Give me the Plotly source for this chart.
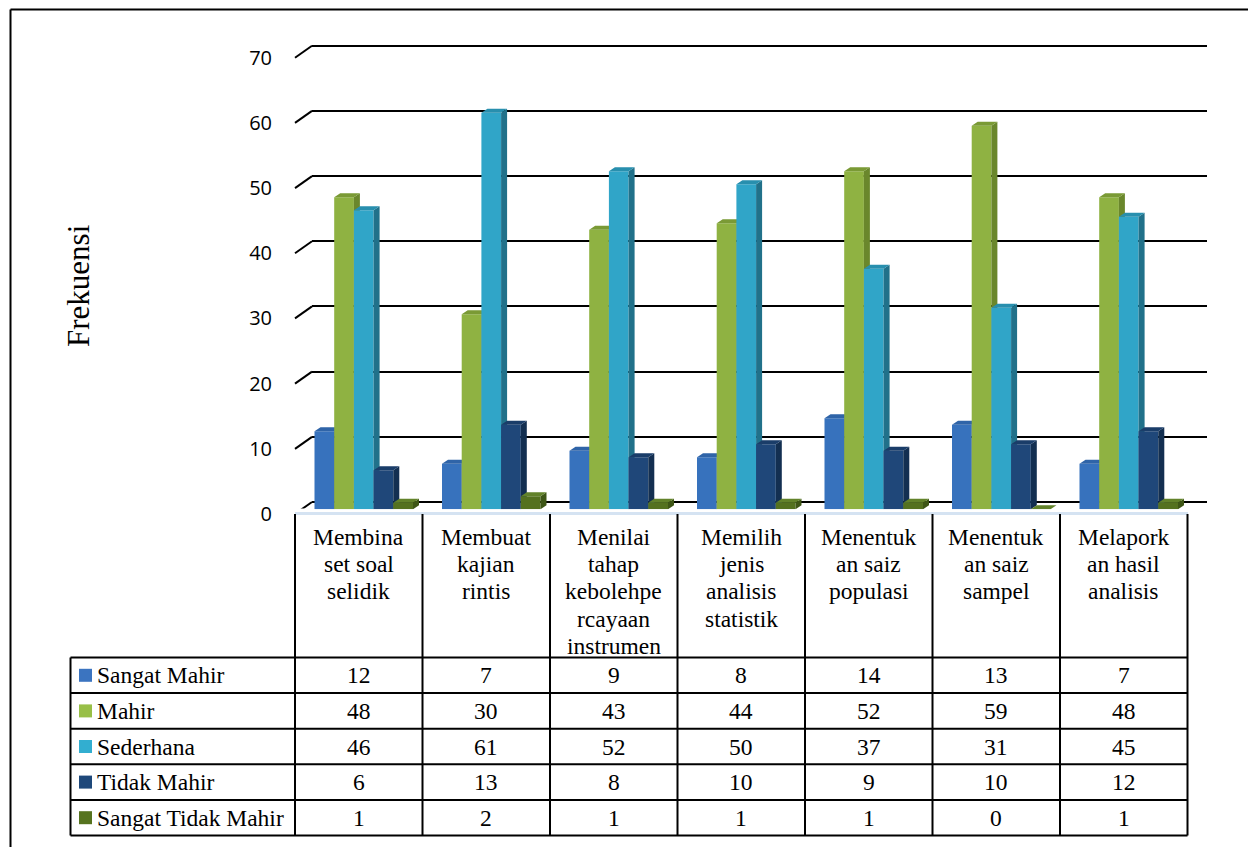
import plotly.graph_objects as go

# ---------------- data ----------------
categories = [
    "Membina<br>set soal<br>selidik",
    "Membuat<br>kajian<br>rintis",
    "Menilai<br>tahap<br>kebolehpe<br>rcayaan<br>instrumen",
    "Memilih<br>jenis<br>analisis<br>statistik",
    "Menentuk<br>an saiz<br>populasi",
    "Menentuk<br>an saiz<br>sampel",
    "Melapork<br>an hasil<br>analisis",
]
series_names = ["Sangat Mahir", "Mahir", "Sederhana", "Tidak Mahir", "Sangat Tidak Mahir"]
sangat_mahir = [12, 7, 9, 8, 14, 13, 7]
mahir = [48, 30, 43, 44, 52, 59, 48]
sederhana = [46, 61, 52, 50, 37, 31, 45]
tidak_mahir = [6, 13, 8, 10, 9, 10, 12]
sangat_tidak_mahir = [1, 2, 1, 1, 1, 0, 1]
series_values = [sangat_mahir, mahir, sederhana, tidak_mahir, sangat_tidak_mahir]
y_ticks = [0, 10, 20, 30, 40, 50, 60, 70]
y_title = "Frekuensi"

# ---------------- styles ----------------
W, H = 1248, 847
front_cols = ["#3772bd", "#8fb242", "#30a5c8", "#1f4779", "#54711f"]
top_cols = ["#2f64a8", "#7a9a35", "#288fae", "#1a3d69", "#62822a"]
side_cols = ["#28528a", "#6a872c", "#21718a", "#132f51", "#3e5616"]
swatch_cols = ["#3b74c0", "#98bf47", "#32aed0", "#1e487a", "#56731f"]
SERIF = "Liberation Serif"
TFONT = 23.5


def fx(px):
    return px / W


def fy(py):
    return 1 - py / H


# bar geometry (data units on the bar subplot)
cat_px = 127.5
bar_x0_px, bar_x1_px = 300.0, 300.0 + 7 * cat_px
w = 19.7 / cat_px
g0 = -2.5 * w
dx = 6.0 / cat_px
px_per_unit = 6.5
dy = 4.0 / px_per_unit
bar_base_px = 509.3
bar_top_px = bar_base_px - 70 * px_per_unit

# gridline subplot geometry (back wall); range padded so edge gridlines are drawn
grid_x0_px, grid_x1_px = 312.0, 1207.0
grid_base_px, grid_top_px = 502.0, 45.7
g_ppu = (grid_base_px - grid_top_px) / 70.0
g_lo, g_hi = -1.0, 71.0

fig = go.Figure()

xs = list(range(len(categories)))

for j, (name, vals) in enumerate(zip(series_names, series_values)):
    ax = j + 2
    xa, ya = f"x{ax}", f"y{ax}"
    fig.add_trace(go.Bar(
        x=xs, y=vals, name=name, width=w, offset=g0 + j * w,
        marker=dict(color=front_cols[j], line=dict(width=0)),
        xaxis=xa, yaxis=ya, showlegend=False, hoverinfo="y+name",
    ))
    sx, sy, tx, ty = [], [], [], []
    for i, v in zip(xs, vals):
        xl = i + g0 + j * w
        xr = xl + w
        sx += [xr, xr, xr + dx, xr + dx, xr, None]
        sy += [0, v, v + dy, dy, 0, None]
        tx += [xl, xr, xr + dx, xl + dx, xl, None]
        ty += [v, v, v + dy, v + dy, v, None]
    fig.add_trace(go.Scatter(
        x=sx, y=sy, mode="lines", fill="toself", fillcolor=side_cols[j],
        line=dict(width=0, color=side_cols[j]), xaxis=xa, yaxis=ya,
        showlegend=False, hoverinfo="skip",
    ))
    fig.add_trace(go.Scatter(
        x=tx, y=ty, mode="lines", fill="toself", fillcolor=top_cols[j],
        line=dict(width=0, color=top_cols[j]), xaxis=xa, yaxis=ya,
        showlegend=False, hoverinfo="skip",
    ))

# invisible trace for the gridline (back wall) subplot
fig.add_trace(go.Scatter(x=[0], y=[0], mode="markers", marker=dict(opacity=0),
                         xaxis="x", yaxis="y", showlegend=False, hoverinfo="skip"))

layout = dict(
    width=W, height=H, margin=dict(l=0, r=0, t=0, b=0, pad=0, autoexpand=False),
    paper_bgcolor="white", plot_bgcolor="rgba(0,0,0,0)",
    showlegend=False,
    xaxis=dict(domain=[fx(grid_x0_px), fx(grid_x1_px)], range=[0, 1], visible=False,
               automargin=False),
    yaxis=dict(domain=[fy(grid_base_px + (0 - g_lo) * g_ppu),
                       fy(grid_base_px - g_hi * g_ppu)],
               range=[g_lo, g_hi], automargin=False,
               tickvals=y_ticks, showgrid=True, gridcolor="black", gridwidth=2,
               zeroline=False, showline=False, ticks="",
               tickfont=dict(family="Open Sans", size=20, color="black"),
               ticklabelshift=12, ticklabelstandoff=39),
)
for j in range(len(series_names)):
    ax = j + 2
    xd = dict(range=[-0.5, 6.5], visible=False, fixedrange=True, automargin=False)
    yd = dict(range=[0, 70], visible=False, fixedrange=True, automargin=False)
    if ax == 2:
        xd["domain"] = [fx(bar_x0_px), fx(bar_x1_px)]
        yd["domain"] = [fy(bar_base_px), fy(bar_top_px)]
        xd["anchor"] = "y2"
        yd["anchor"] = "x2"
    else:
        xd["overlaying"] = "x2"
        yd["overlaying"] = "y2"
        xd["anchor"] = f"y{ax}"
        yd["anchor"] = f"x{ax}"
    layout[f"xaxis{ax}"] = xd
    layout[f"yaxis{ax}"] = yd
fig.update_layout(**layout)

shapes = []
annotations = []

# diagonal depth segments of the gridlines
for v in y_ticks:
    shapes.append(dict(type="line", xref="paper", yref="y", ysizemode="pixel", yanchor=v,
                       x0=fx(295), x1=fx(grid_x0_px), y0=-12, y1=0,
                       line=dict(color="black", width=2)))

# floor front edge
shapes.append(dict(type="line", xref="paper", yref="paper", x0=fx(295), x1=fx(1188),
                   y0=fy(513.5), y1=fy(513.5), line=dict(color="#d5e3f2", width=3)))

# outer frame
shapes.append(dict(type="line", xref="paper", yref="paper", x0=fx(10.5), x1=1,
                   y0=fy(9.5), y1=fy(9.5), line=dict(color="black", width=2)))
shapes.append(dict(type="line", xref="paper", yref="paper", x0=fx(10.5), x1=fx(10.5),
                   y0=fy(9.5), y1=0, line=dict(color="black", width=2)))

# data table
col_x = [295 + k * cat_px for k in range(len(categories) + 1)]
row_top, row_h = 657.5, 35.6
row_y = [row_top + r * row_h for r in range(len(series_names) + 1)]
left_x = 70.5
tline = dict(color="black", width=2)
for k, cx in enumerate(col_x):
    shapes.append(dict(type="line", xref="paper", yref="paper", x0=fx(cx), x1=fx(cx),
                       y0=fy(514), y1=fy(row_y[-1]), line=tline))
shapes.append(dict(type="line", xref="paper", yref="paper", x0=fx(left_x), x1=fx(left_x),
                   y0=fy(row_y[0]), y1=fy(row_y[-1]), line=tline))
for ry in row_y:
    shapes.append(dict(type="line", xref="paper", yref="paper", x0=fx(left_x), x1=fx(col_x[-1]),
                       y0=fy(ry), y1=fy(ry), line=tline))

# header labels (one annotation per line for tight line spacing)
line_gap = 27.4
first_line_y = 536.5
for k, cat in enumerate(categories):
    cx = (col_x[k] + col_x[k + 1]) / 2
    for li, part in enumerate(cat.split("<br>")):
        annotations.append(dict(x=fx(cx), y=fy(first_line_y + li * line_gap),
                                xref="paper", yref="paper", text=part,
                                showarrow=False, xanchor="center", yanchor="middle",
                                font=dict(family=SERIF, size=TFONT, color="black")))

# row labels, swatches and values
for r, (name, vals) in enumerate(zip(series_names, series_values)):
    cy = row_y[r] + row_h / 2
    shapes.append(dict(type="rect", xref="paper", yref="paper", x0=fx(79), x1=fx(92),
                       y0=fy(cy - 6.5), y1=fy(cy + 6.5), fillcolor=swatch_cols[r],
                       line=dict(width=0)))
    annotations.append(dict(x=fx(95), y=fy(cy), xref="paper", yref="paper", text=name,
                            showarrow=False, xanchor="left", yanchor="middle",
                            font=dict(family=SERIF, size=TFONT, color="black")))
    for k, v in enumerate(vals):
        cx = (col_x[k] + col_x[k + 1]) / 2
        annotations.append(dict(x=fx(cx), y=fy(cy), xref="paper", yref="paper", text=str(v),
                                showarrow=False, xanchor="center", yanchor="middle",
                                font=dict(family=SERIF, size=TFONT, color="black")))

# y-axis title
annotations.append(dict(x=fx(78), y=fy(286), xref="paper", yref="paper", text=y_title,
                        showarrow=False, textangle=-90, xanchor="center", yanchor="middle",
                        font=dict(family=SERIF, size=31, color="black")))

fig.update_layout(shapes=shapes, annotations=annotations)
fig.write_html("out.html", config={"displayModeBar": False},
               post_script="document.body.style.margin='0px';")
